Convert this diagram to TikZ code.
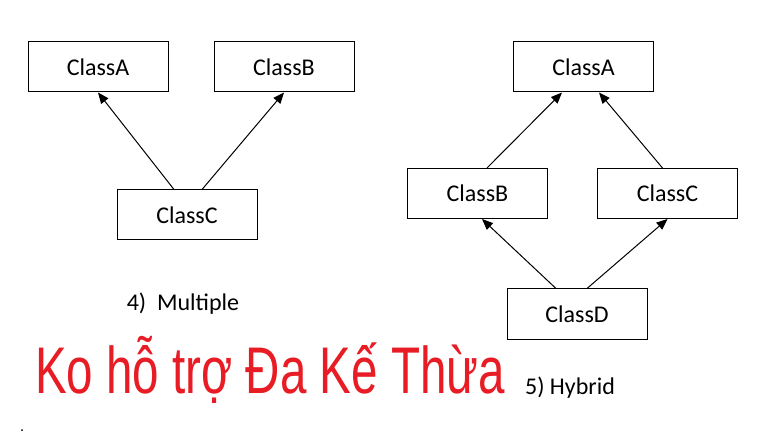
\documentclass[tikz,border=0pt]{standalone}
\usepackage{fontspec}
\setmainfont{Carlito}
\newfontfamily\notefont{Liberation Sans}
\usetikzlibrary{positioning,arrows.meta}
\definecolor{notered}{RGB}{232,28,36}
\tikzstyle{classbox}=[rectangle, draw=black, line width=1pt, minimum width=140pt, minimum height=50pt, text centered, font=\fontsize{24}{28}\selectfont]

\begin{document}
\begin{tikzpicture}[
        node distance = 45pt,
        line/.style={-{Triangle[length=11pt,width=9pt]}, line width=1pt},
        caption/.style={font=\fontsize{24}{28}\selectfont},
      ]
      \useasboundingbox (0,0) rectangle (770pt,-443pt);
      % 4) Multiple
      \node (MultA) [classbox] at (98pt,-67pt) {ClassA};
      \node (MultB) [classbox, right=of MultA] {ClassB};
      \node (MultC) [classbox] at (187pt,-215pt) {ClassC};
      \node (MultLabel) [caption] at (183pt,-304pt) {4)\ \ Multiple};
      \draw [line] ([xshift=-13pt]MultC.north) to (MultA.south);
      \draw [line] ([xshift=15pt]MultC.north) to (MultB.south);
      % 5) Hybrid
      \node (HybA) [classbox] at (583.5pt,-67pt) {ClassA};
      \node (HybB) [classbox] at (477.5pt,-193.5pt) {ClassB};
      \node (HybC) [classbox, right=49pt of HybB] {ClassC};
      \node (HybD) [classbox] at (577pt,-314pt) {ClassD};
      \node (HybLabel) [caption] at (570pt,-388pt) {5) Hybrid};
      \draw [line] ([xshift=9.5pt]HybB.north) to ([xshift=-21.5pt]HybA.south);
      \draw [line] ([xshift=-5pt]HybC.north) to ([xshift=15.5pt]HybA.south);
      \draw [line] ([xshift=-21pt]HybD.north) to ([xshift=4.5pt]HybB.south);
      \draw [line] ([xshift=10pt]HybD.north) to (HybC.south);
      % handwritten note
      \node (Note) [anchor=base west, inner sep=0pt, text=notered, xscale=0.72, transform shape,
            font=\notefont\fontsize{66}{70}\selectfont] at (35pt,-393pt) {Ko hỗ trợ Đa Kế Thừa};
      \fill (22pt,-430pt) circle (1pt);
    \end{tikzpicture}
\end{document}
